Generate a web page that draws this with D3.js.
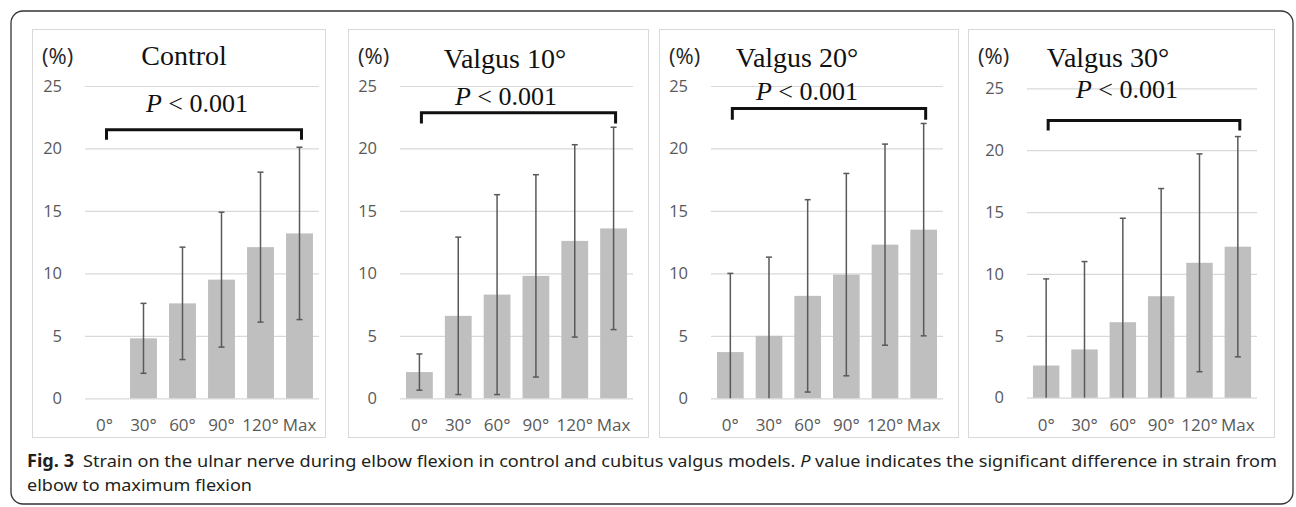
<!DOCTYPE html>
<html>
<head>
<meta charset="utf-8">
<script src="https://cdn.jsdelivr.net/npm/d3@7.9.0/dist/d3.min.js"></script>
<style>
  body { margin: 0; background: #fff; }
  svg { display: block; }
</style>
</head>
<body>
<svg id="chart" width="1296" height="507"></svg>
<script>
// angles on the x axis, shared by all four panels
const angles = ['0°', '30°', '60°', '90°', '120°', 'Max'];
const yTicks = [0, 5, 10, 15, 20, 25];

const panelTitles = ['Control', 'Valgus 10°', 'Valgus 20°', 'Valgus 30°'];

// mean strain (%) and SD
const controlMean = [0, 4.8, 7.6, 9.5, 12.1, 13.2];
const controlSD = [0, 2.8, 4.5, 5.4, 6.0, 6.9];
const valgus10Mean = [2.1, 6.6, 8.3, 9.8, 12.6, 13.6];
const valgus10SD = [1.45, 6.3, 8.0, 8.1, 7.7, 8.1];
const valgus20Mean = [3.7, 5.0, 8.2, 9.9, 12.3, 13.5];
const valgus20SD = [6.3, 6.3, 7.7, 8.1, 8.05, 8.5];
const valgus30Mean = [2.6, 3.9, 6.1, 8.2, 10.9, 12.2];
const valgus30SD = [7.0, 7.1, 8.4, 8.7, 8.8, 8.9];

// bracket height (top, tip) in % units
const bracketLevels = [[21.5, 20.7], [22.85, 22.0], [23.2, 22.3], [22.4, 21.6]];
const pLabel = '< 0.001';

const series = [
  [controlMean, controlSD],
  [valgus10Mean, valgus10SD],
  [valgus20Mean, valgus20SD],
  [valgus30Mean, valgus30SD],
];

// layout of each panel (pixels)
const panels = [
  { fx: 32, fw: 293, x0: 85, x1: 319, yTop: 86, yBot: 398.3, tx: 184, ty: 65, px: 197, py: 112 },
  { fx: 348, fw: 300, x0: 400, x1: 633, yTop: 86, yBot: 398.3, tx: 505, ty: 68, px: 506, py: 105 },
  { fx: 659, fw: 299, x0: 711, x1: 943, yTop: 86, yBot: 398.3, tx: 797, ty: 67, px: 807, py: 100 },
  { fx: 968, fw: 306, x0: 1027, x1: 1257, yTop: 88.3, yBot: 397.7, tx: 1108, ty: 67, px: 1127, py: 98 },
];

const svg = d3.select('#chart');

// outer rounded frame
svg.append('rect')
  .attr('x', 11).attr('y', 11)
  .attr('width', 1282).attr('height', 493)
  .attr('rx', 12)
  .attr('fill', 'none')
  .attr('stroke', '#333')
  .attr('stroke-width', 1.3);

panels.forEach((p, i) => {
  const [means, sds] = series[i];
  const g = svg.append('g');

  g.append('rect')
    .attr('x', p.fx + 0.5).attr('y', 29.5)
    .attr('width', p.fw).attr('height', 408)
    .attr('fill', '#fff')
    .attr('stroke', '#d9d9d9')
    .attr('stroke-width', 1);

  const x = d3.scaleBand().domain(angles).range([p.x0, p.x1]).paddingInner(0.31).paddingOuter(0.155);
  const y = d3.scaleLinear().domain([0, 25]).range([p.yBot, p.yTop]);

  // gridlines + tick labels
  const yAxis = d3.axisLeft(y).tickValues(yTicks).tickSize(-(p.x1 - p.x0)).tickPadding(0);
  const ya = g.append('g').attr('transform', `translate(${p.x0},0)`).call(yAxis);
  ya.select('.domain').remove();
  ya.selectAll('.tick line').attr('stroke', '#d9d9d9').attr('stroke-width', 1.2);
  ya.selectAll('.tick text')
    .attr('x', -23)
    .attr('fill', '#595959')
    .style('font', '16.5px "Open Sans", sans-serif');

  // x labels
  const xAxis = d3.axisBottom(x).tickSize(0).tickPadding(0);
  const xa = g.append('g').attr('transform', `translate(0,${p.yBot + 21})`).call(xAxis);
  xa.select('.domain').remove();
  xa.selectAll('.tick text')
    .attr('fill', '#595959')
    .style('font', '17px "Open Sans", sans-serif');

  // bars
  g.selectAll('rect.bar')
    .data(angles.map((a, k) => ({ a, m: means[k], sd: sds[k] })))
    .join('rect')
    .attr('class', 'bar')
    .attr('x', (d) => x(d.a))
    .attr('width', x.bandwidth())
    .attr('y', (d) => y(d.m))
    .attr('height', (d) => y(0) - y(d.m))
    .attr('fill', '#bfbfbf');

  // error bars
  const eb = g.selectAll('g.err')
    .data(angles.map((a, k) => ({ a, m: means[k], sd: sds[k] })).filter((d) => d.sd > 0))
    .join('g')
    .attr('class', 'err')
    .attr('stroke', '#595959')
    .attr('stroke-width', 1.5);
  const cx = (d) => x(d.a) + x.bandwidth() / 2;
  eb.append('line')
    .attr('x1', cx).attr('x2', cx)
    .attr('y1', (d) => y(d.m + d.sd))
    .attr('y2', (d) => y(Math.max(0, d.m - d.sd)));
  eb.append('line')
    .attr('x1', (d) => cx(d) - 3).attr('x2', (d) => cx(d) + 3)
    .attr('y1', (d) => y(d.m + d.sd)).attr('y2', (d) => y(d.m + d.sd));
  eb.filter((d) => d.m - d.sd > 0).append('line')
    .attr('x1', (d) => cx(d) - 3).attr('x2', (d) => cx(d) + 3)
    .attr('y1', (d) => y(d.m - d.sd)).attr('y2', (d) => y(d.m - d.sd));

  // significance bracket
  const [bTop, bTip] = bracketLevels[i];
  const bx0 = x(angles[0]) + x.bandwidth() / 2 + 2;
  const bx1 = x(angles[angles.length - 1]) + x.bandwidth() / 2 + 2;
  g.append('path')
    .attr('d', `M${bx0},${y(bTip)}V${y(bTop)}H${bx1}V${y(bTip)}`)
    .attr('fill', 'none')
    .attr('stroke', '#111')
    .attr('stroke-width', 3);

  // titles
  g.append('text')
    .attr('x', p.tx).attr('y', p.ty)
    .attr('text-anchor', 'middle')
    .attr('fill', '#111')
    .style('font', '28px "Liberation Serif", serif')
    .text(panelTitles[i]);

  const pt = g.append('text')
    .attr('x', p.px).attr('y', p.py)
    .attr('text-anchor', 'middle')
    .attr('fill', '#111')
    .style('font', '26px "Liberation Serif", serif');
  pt.append('tspan').attr('font-style', 'italic').text('P');
  pt.append('tspan').text(' ' + pLabel);

  g.append('text')
    .attr('x', p.fx + 10).attr('y', 64)
    .attr('fill', '#262626')
    .style('font', '22px "Open Sans", sans-serif')
    .text('(%)');
});

// caption
const cap1 = svg.append('text')
  .attr('x', 27).attr('y', 467)
  .attr('textLength', 1250)
  .attr('lengthAdjust', 'spacingAndGlyphs')
  .attr('fill', '#231f20')
  .style('font', '17px "Noto Sans", sans-serif');
cap1.append('tspan').attr('font-weight', 'bold').text('Fig. 3');
cap1.append('tspan').text('\u2002Strain on the ulnar nerve during elbow flexion in control and cubitus valgus models. ');
cap1.append('tspan').attr('font-style', 'italic').text('P');
cap1.append('tspan').text(' value indicates the significant difference in strain from');

svg.append('text')
  .attr('x', 27).attr('y', 491)
  .attr('textLength', 225)
  .attr('lengthAdjust', 'spacingAndGlyphs')
  .attr('fill', '#231f20')
  .style('font', '17px "Noto Sans", sans-serif')
  .text('elbow to maximum flexion');
</script>
</body>
</html>
